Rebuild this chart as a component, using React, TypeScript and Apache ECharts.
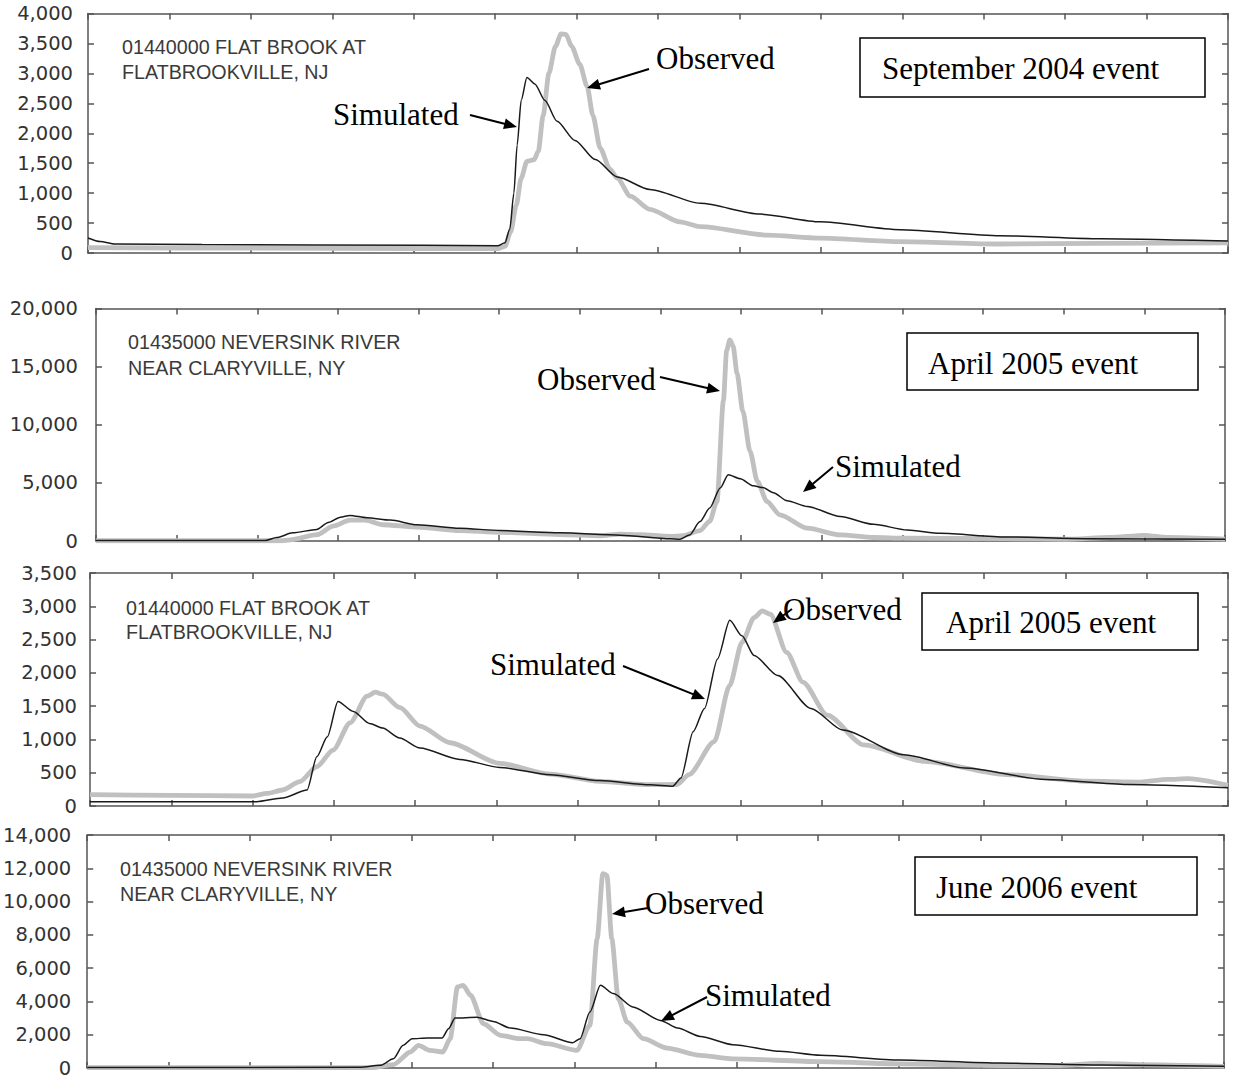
import React, { useEffect, useRef } from "react";
import * as echarts from "echarts";

// x positions are in time-tick units (14 equal intervals per panel)
const X_MAX = 14;

// Panel 1: 01440000 Flat Brook, September 2004 event
const sep2004Observed: number[][] = [
  [0, 90], [2, 80], [4, 75], [5.03, 75], [5.12, 110], [5.19, 350], [5.26, 800], [5.32, 1250],
  [5.39, 1530], [5.48, 1560], [5.53, 1700], [5.59, 2300], [5.66, 3000], [5.74, 3450], [5.81, 3660],
  [5.87, 3650], [5.94, 3450], [6.04, 3150], [6.13, 2780], [6.2, 2300], [6.29, 1750], [6.41, 1400],
  [6.5, 1250], [6.66, 950], [6.9, 730], [7.27, 520], [7.52, 440], [8.34, 300], [8.99, 250],
  [9.97, 190], [11.2, 150], [12.43, 160], [14, 170],
];
const sep2004Simulated: number[][] = [
  [0, 250], [0.15, 190], [0.33, 150], [1.4, 140], [4.1, 130], [5.03, 120], [5.12, 170], [5.18, 400],
  [5.23, 1000], [5.27, 1800], [5.32, 2550], [5.39, 2930], [5.49, 2820], [5.61, 2550], [5.76, 2200],
  [5.98, 1880], [6.23, 1560], [6.5, 1270], [6.9, 1060], [7.52, 830], [8.25, 650], [8.99, 520],
  [9.97, 390], [11.2, 290], [12.43, 240], [14, 200],
];

// Panel 2: 01435000 Neversink River, April 2005 event
const apr2005NeversinkObserved: number[][] = [
  [0, 20], [2.3, 20], [2.41, 100], [2.74, 540], [2.94, 1280], [3.15, 1800], [3.34, 1800], [3.56, 1400],
  [3.98, 1200], [4.51, 900], [5.01, 750], [5.75, 550], [6.25, 450], [6.5, 600], [6.75, 550], [7.12, 400],
  [7.28, 450], [7.49, 900], [7.61, 1700], [7.7, 3400], [7.78, 12060], [7.82, 16390], [7.86, 17300],
  [7.9, 16800], [7.95, 14370], [8.02, 11200], [8.11, 7735], [8.2, 5140], [8.32, 3400], [8.48, 2250],
  [8.82, 1100], [9.23, 520], [9.64, 300], [10.04, 250], [11.28, 200], [12.03, 150], [12.57, 300],
  [13.0, 490], [13.29, 300], [14, 150],
];
const apr2005NeversinkSimulated: number[][] = [
  [0, 40], [2.1, 40], [2.24, 300], [2.44, 700], [2.74, 1000], [2.88, 1600], [3.03, 2050], [3.15, 2200],
  [3.36, 2000], [3.65, 1800], [3.98, 1400], [4.51, 1100], [5.01, 900], [5.75, 700], [6.5, 500],
  [7.12, 200], [7.24, 150], [7.36, 520], [7.49, 1670], [7.61, 2830], [7.74, 4560], [7.84, 5700],
  [7.99, 5350], [8.15, 4750], [8.27, 4600], [8.4, 4150], [8.57, 3460], [8.82, 2970], [9.23, 2100],
  [9.64, 1440], [10.06, 950], [10.47, 660], [11.28, 350], [12.29, 200], [14, 150],
];

// Panel 3: 01440000 Flat Brook, April 2005 event
const apr2005FlatObserved: number[][] = [
  [0, 170], [1, 160], [2.0, 150], [2.18, 190], [2.37, 240], [2.58, 365], [2.79, 590], [2.99, 840],
  [3.2, 1250], [3.41, 1650], [3.51, 1710], [3.6, 1680], [3.81, 1480], [4.06, 1200], [4.43, 950],
  [5.04, 640], [5.66, 480], [6.27, 370], [6.89, 320], [7.22, 323], [7.37, 472], [7.68, 968],
  [7.87, 1812], [8.02, 2458], [8.17, 2830], [8.27, 2930], [8.37, 2880], [8.57, 2309], [8.77, 1862],
  [9.07, 1365], [9.52, 918], [10.27, 670], [11.27, 472], [12.26, 372], [12.92, 360], [13.26, 400],
  [13.51, 410], [14, 310],
];
const apr2005FlatSimulated: number[][] = [
  [0, 65], [2.05, 65], [2.37, 120], [2.67, 240], [2.79, 740], [2.92, 1040], [3.05, 1570], [3.24, 1420],
  [3.44, 1240], [3.6, 1170], [3.81, 1020], [4.06, 870], [4.55, 700], [5.04, 580], [5.66, 470],
  [6.27, 382], [6.89, 320], [7.17, 298], [7.27, 422], [7.42, 1117], [7.56, 1465], [7.72, 2210],
  [7.87, 2790], [8.02, 2557], [8.17, 2260], [8.46, 1960], [8.87, 1465], [9.26, 1142], [10.01, 770],
  [10.76, 571], [11.76, 397], [12.76, 323], [14, 273],
];

// Panel 4: 01435000 Neversink River, June 2006 event
const jun2006Observed: number[][] = [
  [0, 20], [3.5, 20], [3.77, 200], [3.98, 960], [4.08, 1360], [4.22, 1060], [4.38, 960], [4.47, 1760],
  [4.56, 4870], [4.63, 4970], [4.72, 4370], [4.88, 2660], [5.09, 1960], [5.33, 1760], [5.42, 1760],
  [5.66, 1460], [6.03, 1060], [6.19, 2560], [6.28, 7770], [6.35, 11680], [6.4, 11580], [6.46, 7770],
  [6.54, 4170], [6.65, 2760], [6.85, 1760], [7.14, 1200], [7.55, 760], [7.95, 550], [9.03, 380],
  [10.01, 250], [11.24, 150], [11.98, 150], [12.47, 280], [12.97, 200], [14, 100],
];
const jun2006Simulated: number[][] = [
  [0, 30], [3.36, 40], [3.61, 160], [3.77, 560], [3.89, 1360], [4.0, 1760], [4.19, 1800], [4.37, 1800],
  [4.45, 2360], [4.53, 3000], [4.8, 3050], [5.0, 2800], [5.21, 2400], [5.62, 2000], [5.98, 1520],
  [6.07, 1760], [6.19, 3360], [6.32, 4970], [6.48, 4470], [6.72, 3670], [7.06, 2860], [7.27, 2400],
  [7.55, 1900], [7.95, 1400], [8.53, 1000], [9.03, 760], [10.01, 480], [11.24, 300], [12.47, 180],
  [14, 100],
];

const yMaxes = [4000, 20000, 3500, 14000];
const yIntervals = [500, 5000, 500, 2000];
const stationLines = [
  ["01440000 FLAT BROOK AT", "FLATBROOKVILLE, NJ"],
  ["01435000 NEVERSINK RIVER", "NEAR CLARYVILLE, NY"],
  ["01440000 FLAT BROOK AT", "FLATBROOKVILLE, NJ"],
  ["01435000 NEVERSINK RIVER", "NEAR CLARYVILLE, NY"],
];
const eventTitles = ["September 2004 event", "April 2005 event", "April 2005 event", "June 2006 event"];
const observedSets = [sep2004Observed, apr2005NeversinkObserved, apr2005FlatObserved, jun2006Observed];
const simulatedSets = [sep2004Simulated, apr2005NeversinkSimulated, apr2005FlatSimulated, jun2006Simulated];

// Layout (pixels)
const grids = [
  { left: 88, top: 13.5, width: 1140, height: 239.5, margin: 15 },
  { left: 96, top: 308.5, width: 1129, height: 232.5, margin: 18 },
  { left: 90, top: 573, width: 1138, height: 233, margin: 13 },
  { left: 87, top: 835, width: 1137, height: 233, margin: 16 },
];
const stationPos = [
  { x: 122, y1: 47, y2: 72 },
  { x: 128, y1: 342, y2: 368 },
  { x: 126, y1: 608, y2: 632 },
  { x: 120, y1: 869, y2: 894 },
];
const boxes = [
  { x: 860, y: 38, w: 345, h: 59, tx: 882, ty: 68 },
  { x: 907, y: 333, w: 291, h: 57, tx: 928, ty: 363 },
  { x: 922, y: 593, w: 276, h: 57, tx: 946, ty: 622 },
  { x: 915, y: 857, w: 282, h: 58, tx: 936, ty: 887 },
];
const callouts = [
  { text: "Simulated", x: 333, y: 114, a: [470, 115, 517, 127] },
  { text: "Observed", x: 656, y: 58, a: [649, 69, 587, 88] },
  { text: "Observed", x: 537, y: 379, a: [660, 377, 720, 391] },
  { text: "Simulated", x: 835, y: 466, a: [833, 467, 803, 492] },
  { text: "Simulated", x: 490, y: 664, a: [623, 666, 705, 699] },
  { text: "Observed", x: 783, y: 609, a: [792, 609, 773, 623] },
  { text: "Observed", x: 645, y: 903, a: [648, 908, 612, 914] },
  { text: "Simulated", x: 705, y: 995, a: [707, 997, 661, 1021] },
];

const AXIS_COLOR = "#555";
const SERIF = "'Liberation Serif', 'Times New Roman', serif";
const SANS = "'Liberation Sans', Arial, sans-serif";

function arrow(x1: number, y1: number, x2: number, y2: number) {
  const dx = x2 - x1, dy = y2 - y1;
  const L = Math.hypot(dx, dy);
  const ux = dx / L, uy = dy / L;
  const hl = 13, hw = 5.5;
  const bx = x2 - ux * hl, by = y2 - uy * hl;
  return [
    { type: "line", z: 100, shape: { x1, y1, x2: bx + ux * 2, y2: by + uy * 2 }, style: { stroke: "#000", lineWidth: 2 } },
    {
      type: "polygon", z: 100,
      shape: { points: [[x2, y2], [bx - uy * hw, by + ux * hw], [bx + uy * hw, by - ux * hw]] },
      style: { fill: "#000" },
    },
  ];
}

export default function App() {
  const ref = useRef<HTMLDivElement>(null);
  useEffect(() => {
    if (!ref.current) return;
    const chart = echarts.init(ref.current, undefined, { renderer: "svg" });
    const lineStyle = { color: AXIS_COLOR, width: 1.5 };
    const xAxis: any[] = [];
    const yAxis: any[] = [];
    const series: any[] = [];
    const graphic: any[] = [];
    grids.forEach((g, i) => {
      ["bottom", "top"].forEach((pos) => {
        xAxis.push({
          gridIndex: i, type: "value", min: 0, max: X_MAX, interval: 1, position: pos,
          axisLine: { show: true, onZero: false, lineStyle },
          axisTick: { show: true, inside: true, length: 6, lineStyle },
          axisLabel: { show: false }, splitLine: { show: false },
        });
      });
      ["left", "right"].forEach((pos) => {
        yAxis.push({
          gridIndex: i, type: "value", min: 0, max: yMaxes[i], interval: yIntervals[i], position: pos,
          axisLine: { show: true, onZero: false, lineStyle },
          axisTick: { show: true, inside: true, length: 6, lineStyle },
          axisLabel: pos === "left"
            ? {
                show: true, margin: g.margin, color: "#333", fontSize: 19.5,
                fontFamily: "'DejaVu Sans', sans-serif",
                formatter: (v: number) => v.toLocaleString("en-US"),
              }
            : { show: false },
          splitLine: { show: false },
        });
      });
      series.push({
        name: "Observed", type: "line", xAxisIndex: i * 2, yAxisIndex: i * 2, data: observedSets[i],
        symbol: "none", smooth: 0.25, smoothMonotone: "x", z: 2,
        lineStyle: { color: "#c0c0c0", width: 4.8 },
      });
      series.push({
        name: "Simulated", type: "line", xAxisIndex: i * 2, yAxisIndex: i * 2, data: simulatedSets[i],
        symbol: "none", smooth: 0.25, smoothMonotone: "x", z: 3,
        lineStyle: { color: "#1a1a1a", width: 1.5 },
      });
      const sp = stationPos[i];
      [sp.y1, sp.y2].forEach((yy, k) => {
        graphic.push({
          type: "text", z: 100, x: sp.x, y: yy,
          style: { text: stationLines[i][k], fontSize: 19.7, fontFamily: SANS, fill: "#3a3a3a", align: "left", verticalAlign: "middle" },
        });
      });
      const b = boxes[i];
      graphic.push({
        type: "rect", z: 100, shape: { x: b.x, y: b.y, width: b.w, height: b.h },
        style: { fill: "#fff", stroke: "#000", lineWidth: 1.5 },
      });
      graphic.push({
        type: "text", z: 101, x: b.tx, y: b.ty,
        style: { text: eventTitles[i], fontSize: 31, fontFamily: SERIF, fill: "#000", align: "left", verticalAlign: "middle" },
      });
    });
    callouts.forEach((c) => {
      graphic.push({
        type: "text", z: 100, x: c.x, y: c.y,
        style: { text: c.text, fontSize: 31, fontFamily: SERIF, fill: "#000", align: "left", verticalAlign: "middle" },
      });
      graphic.push(...arrow(c.a[0], c.a[1], c.a[2], c.a[3]));
    });
    chart.setOption({
      animation: false,
      backgroundColor: "#fff",
      grid: grids.map((g) => ({ left: g.left, top: g.top, width: g.width, height: g.height, containLabel: false })),
      xAxis, yAxis, series, graphic,
    });
    return () => chart.dispose();
  }, []);
  return (
    <div
      ref={ref}
      style={{ position: "absolute", left: 0, top: 0, width: 1233, height: 1080, background: "#fff" }}
    />
  );
}
